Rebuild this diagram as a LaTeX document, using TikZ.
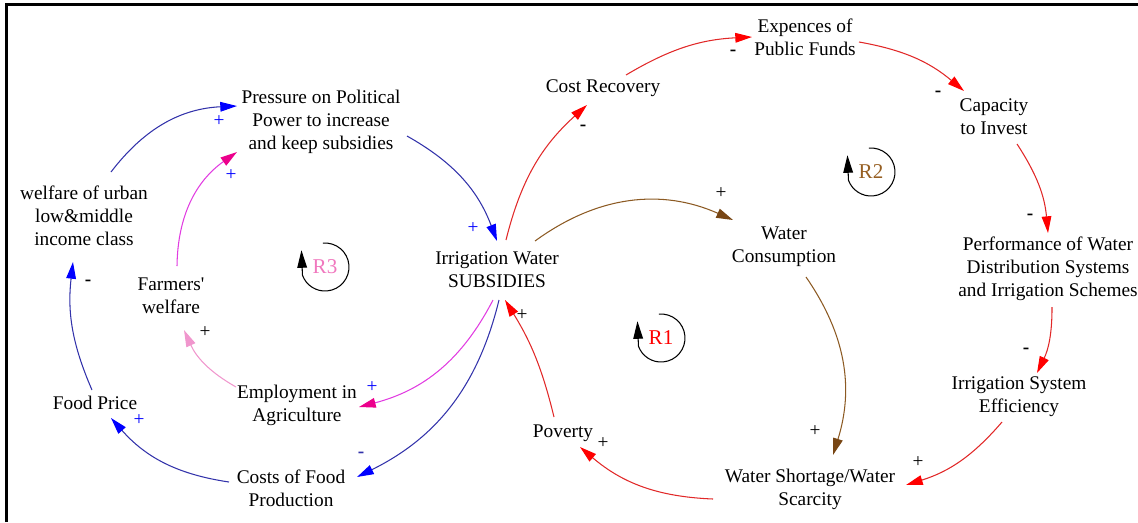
\documentclass[tikz,border=0pt]{standalone}
\usepackage{fontspec}
\setmainfont{Liberation Serif}
\usepackage{tikz}
\usetikzlibrary{arrows.meta}
\definecolor{lineblue}{RGB}{50,50,170}
\definecolor{linered}{RGB}{225,40,40}
\definecolor{linebrown}{RGB}{140,90,35}
\definecolor{headbrown}{RGB}{120,70,20}
\definecolor{linemagenta}{RGB}{225,60,225}
\definecolor{linepink}{RGB}{240,150,205}
\definecolor{rthree}{RGB}{240,120,190}
\definecolor{rtwo}{RGB}{150,95,35}
\begin{document}
\begin{tikzpicture}[x=0.02cm, y=-0.02cm, line width=0.6pt,
  main/.style = {align=center, inner sep=0pt, font=\fontsize{11}{13.1}\selectfont},
  sign/.style = {inner sep=0pt, font=\fontsize{11}{13}\selectfont},
  loopname/.style = {inner sep=0pt, font=\fontsize{12}{14}\selectfont},
  looparc/.style = {black, -{Triangle[length=10pt,width=5.5pt]}},
  bluelink/.style = {draw=lineblue, -{Triangle[length=9.5pt,width=5.5pt,color=blue]}},
  redlink/.style = {draw=linered, -{Triangle[length=9.5pt,width=5.5pt,color=red]}},
  brownlink/.style = {draw=linebrown, -{Triangle[length=9.5pt,width=5.5pt,color=headbrown]}},
  magentalink/.style = {draw=linemagenta, -{Triangle[length=9.5pt,width=5.5pt,color=magenta]}},
  pinklink/.style = {draw=linepink, -{Triangle[length=9.5pt,width=5.5pt,color=linepink]}}]
  \useasboundingbox (0,0) rectangle (1138,522);
  \draw[line width=1.8pt] (6.5,522) -- (6.5,4.5) -- (1138,4.5);
  % Nodes
  \node[main] (press) at (321,122) {Pressure on Political\\Power to increase\\and keep subsidies};
  \node[main] (urban) at (84,216) {welfare of urban\\low\&middle\\income class};
  \node[main] (farm) at (171,296) {Farmers\textquotesingle\\welfare};
  \node[main] (food) at (95,403) {Food Price};
  \node[main] (employ) at (297,405) {Employment in\\Agriculture};
  \node[main] (costs) at (291,488) {Costs of Food\\Production};
  \node[main] (subs) at (497,270) {Irrigation Water\\SUBSIDIES};
  \node[main] (recov) at (603,88) {Cost Recovery};
  \node[main] (exp) at (805,37) {Expences of\\Public Funds};
  \node[main] (cap) at (994,117) {Capacity\\to Invest};
  \node[main] (cons) at (784,247) {Water\\Consumption};
  \node[main] (perf) at (1048,269) {Performance of Water\\Distribution Systems\\and Irrigation Schemes};
  \node[main] (eff) at (1019,397) {Irrigation System\\Efficiency};
  \node[main] (pov) at (563,433) {Poverty};
  \node[main] (short) at (810,489) {Water Shortage/Water\\Scarcity};
  % Loops
  \node[loopname, text=rthree] (r3) at (325,267) {R3};
  \node[loopname, text=rtwo] (r2) at (871,172) {R2};
  \node[loopname, text=red] (r1) at (661,338) {R1};
  \draw[looparc] (r3.center) ++(-95:24) arc[start angle=-95, end angle=160, radius=24] -- ++(-1,-25);
  \draw[looparc] (r2.center) ++(-95:24) arc[start angle=-95, end angle=160, radius=24] -- ++(-1,-25);
  \draw[looparc] (r1.center) ++(-95:24) arc[start angle=-95, end angle=160, radius=24] -- ++(-1,-25);
  % Edges
  \draw[bluelink] ([shift={(27,-44)}]urban.center) to[bend left=25] ([shift={(-84,-16)}]press.center);
  \draw[bluelink] ([shift={(86,14)}]press.center) to[bend left=20] ([shift={(0,-29)}]subs.center);
  \draw[magentalink] ([shift={(6,-30)}]farm.center) to[bend left=27] ([shift={(-84,30)}]press.center);
  \draw[bluelink] ([shift={(-3,-13)}]food.center) to[bend left=15] ([shift={(-11,46)}]urban.center);
  \draw[bluelink] ([shift={(-62,-6)}]costs.center) to[bend left=20] ([shift={(16,15)}]food.center);
  \draw[bluelink] ([shift={(2,30)}]subs.center) to[bend left=25] ([shift={(66,-11)}]costs.center);
  \draw[magentalink] ([shift={(-4,30)}]subs.center) to[bend left=24] ([shift={(62,2)}]employ.center);
  \draw[pinklink] ([shift={(-61,-18)}]employ.center) to[bend left=18] ([shift={(13,34)}]farm.center);
  \draw[redlink] ([shift={(9,-30)}]subs.center) to[bend left=17] ([shift={(-16,17)}]recov.center);
  \draw[redlink] ([shift={(23,-13)}]recov.center) to[bend left=14] ([shift={(-53,0)}]exp.center);
  \draw[redlink] ([shift={(54,5)}]exp.center) to[bend left=15] ([shift={(-30,-26)}]cap.center);
  \draw[redlink] ([shift={(23,27)}]cap.center) to[bend left=14] ([shift={(0,-36)}]perf.center);
  \draw[redlink] ([shift={(4,38)}]perf.center) to[bend left=13] ([shift={(18,-24)}]eff.center);
  \draw[redlink] ([shift={(-17,25)}]eff.center) to[bend left=16] ([shift={(96,-4)}]short.center);
  \draw[brownlink] ([shift={(22,30)}]cons.center) to[bend left=26] ([shift={(23,-34)}]short.center);
  \draw[brownlink] ([shift={(38,-29)}]subs.center) to[bend left=30] ([shift={(-51,-27)}]cons.center);
  \draw[redlink] ([shift={(-97,10)}]short.center) to[bend left=19] ([shift={(17,14)}]pov.center);
  \draw[redlink] ([shift={(-9,-16)}]pov.center) to[bend right=9] ([shift={(8,30)}]subs.center);
  % Signs
  \node[sign, text=blue] (s1) at (219,121) {+};
  \node[sign, text=blue] (s2) at (473,228) {+};
  \node[sign, text=blue] (s3) at (231,175) {+};
  \node[sign] (s4) at (88,283) {\textbf{-}};
  \node[sign, text=blue] (s5) at (139,420) {+};
  \node[sign, text=lineblue] (s6) at (361,455) {\textbf{-}};
  \node[sign, text=blue] (s7) at (372,387) {+};
  \node[sign] (s8) at (205,332) {+};
  \node[sign] (s9) at (583,128) {\textbf{-}};
  \node[sign] (s10) at (733,53) {\textbf{-}};
  \node[sign] (s11) at (938,94) {\textbf{-}};
  \node[sign] (s12) at (1030,217) {\textbf{-}};
  \node[sign] (s13) at (1026,351) {\textbf{-}};
  \node[sign] (s14) at (918,462) {+};
  \node[sign] (s15) at (815,431) {+};
  \node[sign] (s16) at (721,193) {+};
  \node[sign] (s17) at (603,443) {+};
  \node[sign] (s18) at (522,315) {+};
\end{tikzpicture}
\end{document}
